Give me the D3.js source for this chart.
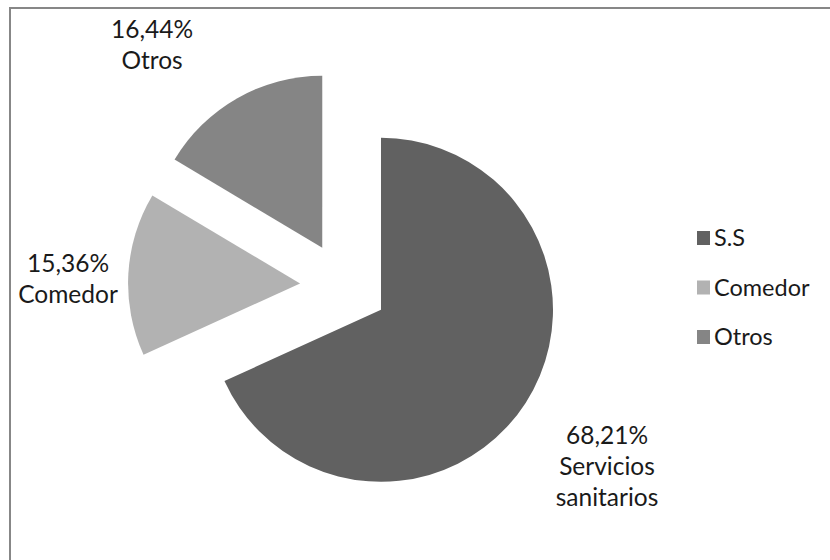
<!DOCTYPE html>
<html>
<head>
<meta charset="utf-8">
<script src="https://cdn.jsdelivr.net/npm/d3@7"></script>
<style>
  body { margin: 0; background: #fff; }
  svg { display: block; font-family: Lato, "Open Sans", sans-serif; }
</style>
</head>
<body>
<div id="chart"></div>
<script>
// data
var categories = ['S.S', 'Comedor', 'Otros'];
var labelNames = [['Servicios', 'sanitarios'], ['Comedor'], ['Otros']];
var values = [68.21, 15.36, 16.44];
var colors = ['#616161', '#b2b2b2', '#858585'];

var width = 830, height = 560;
var cx = 344, cy = 286, radius = 172, explode = 44;

var svg = d3.select('#chart').append('svg')
  .attr('width', width)
  .attr('height', height);

// chart frame (runs off the right and bottom of the picture)
svg.append('rect')
  .attr('x', 10).attr('y', 8)
  .attr('width', 840).attr('height', 580)
  .attr('fill', 'none')
  .attr('stroke', '#878787')
  .attr('stroke-width', 2);

var pie = d3.pie().sort(null).value(function (d) { return d; });
var arcs = pie(values);
var arc = d3.arc().innerRadius(0).outerRadius(radius);

function mid(d) { return (d.startAngle + d.endAngle) / 2; }

var g = svg.append('g').attr('transform', 'translate(' + cx + ',' + cy + ')');

g.selectAll('path.slice')
  .data(arcs)
  .enter()
  .append('path')
  .attr('class', 'slice')
  .attr('d', arc)
  .attr('fill', function (d, i) { return colors[i]; })
  .attr('transform', function (d) {
    var a = mid(d);
    return 'translate(' + (Math.sin(a) * explode) + ',' + (-Math.cos(a) * explode) + ')';
  });

// data labels, placed outside the end like the original
var labelOffset = [[263, 180], [-276, -7], [-192, -241]];
var fmt = function (v) { return v.toFixed(2).replace('.', ',') + '%'; };

var labels = g.selectAll('text.lab')
  .data(arcs)
  .enter()
  .append('text')
  .attr('class', 'lab')
  .attr('text-anchor', 'middle')
  .attr('font-size', 24.5)
  .attr('fill', '#1a1a1a')
  .attr('transform', function (d, i) {
    return 'translate(' + labelOffset[i][0] + ',' + labelOffset[i][1] + ')';
  });

labels.each(function (d, i) {
  var t = d3.select(this);
  var lines = [fmt(values[i])].concat(labelNames[i]);
  var y0 = -(lines.length - 1) * 31 / 2;
  lines.forEach(function (s, k) {
    t.append('tspan')
      .attr('x', 0)
      .attr('y', y0 + k * 31)
      .attr('dy', '0.35em')
      .text(s);
  });
});

// legend
var legend = svg.append('g').attr('transform', 'translate(697,238)');
var item = legend.selectAll('g')
  .data(categories)
  .enter()
  .append('g')
  .attr('transform', function (d, i) { return 'translate(0,' + (i * 49.5) + ')'; });

item.append('rect')
  .attr('x', 0).attr('y', -7)
  .attr('width', 13).attr('height', 14)
  .attr('fill', function (d, i) { return colors[i]; });

item.append('text')
  .attr('x', 17)
  .attr('dy', '0.35em')
  .attr('font-size', 23.5)
  .attr('fill', '#1a1a1a')
  .text(function (d) { return d; });
</script>
</body>
</html>
